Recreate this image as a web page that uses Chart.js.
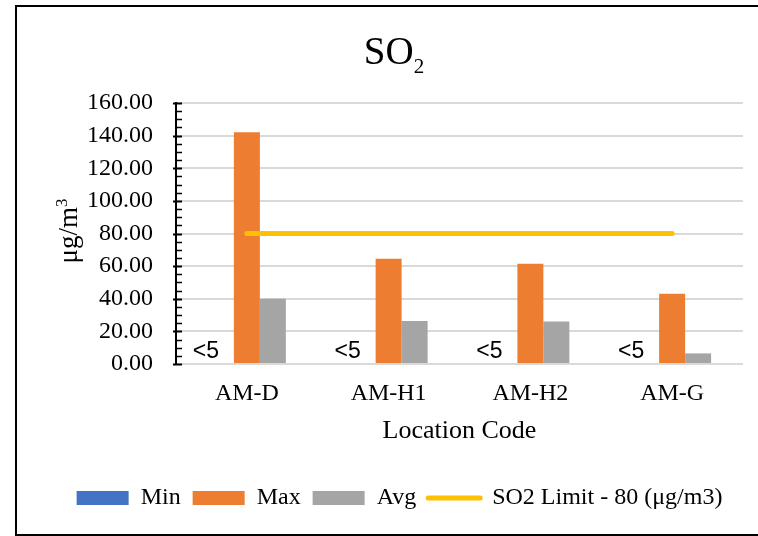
<!DOCTYPE html>
<html>
<head>
<meta charset="utf-8">
<script src="https://cdn.jsdelivr.net/npm/chart.js@4.4.1/dist/chart.umd.min.js"></script>
<style>
  html, body { margin: 0; padding: 0; background: #ffffff; overflow: hidden; }
  #wrap { position: relative; width: 758px; height: 536px; }
</style>
</head>
<body>
<div id="wrap"><canvas id="c" width="758" height="536"></canvas></div>
<script>
// Monitoring locations and SO2 concentrations (µg/m3)
const categories = ['AM-D', 'AM-H1', 'AM-H2', 'AM-G'];
const minValues = [0, 0, 0, 0];
const minLabels = ['<5', '<5', '<5', '<5'];
const maxValues = [142.0, 64.5, 61.5, 43.0];
const avgValues = [40.0, 26.3, 26.0, 6.5];
const limitValues = [80, 80, 80, 80];
const yTickValues = [0, 20, 40, 60, 80, 100, 120, 140, 160];

const SERIF = '"Liberation Serif", "Times New Roman", serif';
const SANS = '"Liberation Sans", Arial, sans-serif';

// Frame around the chart
const framePlugin = {
  id: 'frame',
  beforeDraw(chart) {
    const ctx = chart.ctx;
    ctx.save();
    ctx.fillStyle = '#ffffff';
    ctx.fillRect(0, 0, chart.width, chart.height);
    ctx.strokeStyle = '#000000';
    ctx.lineWidth = 2;
    ctx.beginPath();
    ctx.moveTo(chart.width, 6);
    ctx.lineTo(16, 6);
    ctx.lineTo(16, 535);
    ctx.lineTo(chart.width, 535);
    ctx.stroke();
    ctx.restore();
  }
};

// Chart title with subscript, and the rotated unit title with superscript
const titlesPlugin = {
  id: 'titles',
  afterDraw(chart) {
    const ctx = chart.ctx;
    ctx.save();
    ctx.fillStyle = '#000000';
    ctx.textBaseline = 'alphabetic';
    ctx.textAlign = 'left';
    ctx.font = '39px ' + SERIF;
    const main = 'SO';
    const mainW = ctx.measureText(main).width;
    ctx.font = '21px ' + SERIF;
    const subW = ctx.measureText('2').width;
    const x0 = 394 - (mainW + subW) / 2;
    ctx.font = '39px ' + SERIF;
    ctx.fillText(main, x0, 64);
    ctx.font = '21px ' + SERIF;
    ctx.fillText('2', x0 + mainW, 73);

    // y-axis unit
    ctx.translate(77, 231);
    ctx.rotate(-Math.PI / 2);
    ctx.font = '27px ' + SERIF;
    const unit = 'μg/m';
    const unitW = ctx.measureText(unit).width;
    ctx.font = '17px ' + SERIF;
    const supW = ctx.measureText('3').width;
    const ux = -(unitW + supW) / 2;
    ctx.font = '27px ' + SERIF;
    ctx.fillText(unit, ux, 0);
    ctx.font = '17px ' + SERIF;
    ctx.fillText('3', ux + unitW, -10);
    ctx.restore();
  }
};

// Inside tick marks on the value axis (minor every 5, major every 20)
const axisTicksPlugin = {
  id: 'axisTicks',
  afterDatasetsDraw(chart) {
    const y = chart.scales.y;
    const ctx = chart.ctx;
    const x = chart.chartArea.left;
    ctx.save();
    ctx.strokeStyle = '#000000';
    for (let v = 0; v <= 160; v += 5) {
      const py = Math.round(y.getPixelForValue(v)) + 0.5;
      const major = v % 20 === 0;
      ctx.lineWidth = major ? 2 : 1.5;
      ctx.beginPath();
      ctx.moveTo(major ? x - 3 : x, py);
      ctx.lineTo(x + 6, py);
      ctx.stroke();
    }
    ctx.restore();
  }
};

// "<5" labels for the minimum series
const minLabelPlugin = {
  id: 'minLabels',
  afterDatasetsDraw(chart) {
    const meta = chart.getDatasetMeta(0);
    const zero = chart.scales.y.getPixelForValue(0);
    const ctx = chart.ctx;
    ctx.save();
    ctx.fillStyle = '#000000';
    ctx.font = '23px ' + SANS;
    ctx.textAlign = 'center';
    ctx.textBaseline = 'alphabetic';
    meta.data.forEach((el, i) => {
      ctx.fillText(minLabels[i], el.x - 15, zero - 6);
    });
    ctx.restore();
  }
};

new Chart(document.getElementById('c'), {
  data: {
    labels: categories,
    datasets: [
      { type: 'bar', label: 'Min', data: minValues, backgroundColor: '#4472C4', order: 1 },
      { type: 'bar', label: 'Max', data: maxValues, backgroundColor: '#ED7D31', order: 1 },
      { type: 'bar', label: 'Avg', data: avgValues, backgroundColor: '#A5A5A5', order: 1 },
      {
        type: 'line', label: 'SO2 Limit - 80 (μg/m3)', data: limitValues,
        borderColor: '#FFC000', backgroundColor: '#FFC000', borderWidth: 5,
        borderCapStyle: 'round', pointRadius: 0, fill: false, order: 0
      }
    ]
  },
  options: {
    responsive: false,
    animation: false,
    devicePixelRatio: 1,
    layout: { padding: { top: 103, right: 15, left: 56, bottom: 16 } },
    datasets: {
      bar: { categoryPercentage: 0.55, barPercentage: 1.0, borderWidth: 0 }
    },
    scales: {
      x: {
        type: 'category',
        offset: true,
        grid: { display: false, drawTicks: false },
        border: { display: false },
        ticks: { color: '#000000', font: { family: SERIF, size: 24 }, padding: 15, maxRotation: 0 },
        title: {
          display: true, text: 'Location Code', color: '#000000',
          font: { family: SERIF, size: 26 }, padding: { top: 0, bottom: 27 }
        },
        afterFit(scale) { scale.height = 110; }
      },
      y: {
        min: 0, max: 160,
        afterBuildTicks(scale) { scale.ticks = yTickValues.map(v => ({ value: v })); },
        ticks: {
          color: '#000000', font: { family: SERIF, size: 24 }, padding: 23,
          callback: v => Number(v).toFixed(2)
        },
        grid: { color: '#D9D9D9', lineWidth: 2, drawTicks: false },
        border: { display: true, color: '#000000', width: 2 },
        afterFit(scale) { scale.width = 120; }
      }
    },
    plugins: {
      title: { display: false },
      tooltip: { enabled: false },
      legend: {
        display: true,
        position: 'bottom',
        labels: {
          color: '#000000',
          font: { family: SERIF, size: 24 },
          usePointStyle: true,
          pointStyleWidth: 52,
          boxHeight: 14,
          padding: 12,
          generateLabels(chart) {
            const items = Chart.defaults.plugins.legend.labels.generateLabels(chart);
            items.sort((a, b) => a.datasetIndex - b.datasetIndex);
            return items.map(it => {
              const ds = chart.data.datasets[it.datasetIndex];
              if (ds.type === 'line') {
                it.pointStyle = 'line';
                it.lineWidth = 5;
                it.strokeStyle = ds.borderColor;
                it.lineCap = 'round';
              } else {
                it.pointStyle = 'rect';
                it.lineWidth = 0;
                it.strokeStyle = ds.backgroundColor;
              }
              return it;
            });
          }
        }
      }
    }
  },
  plugins: [framePlugin, titlesPlugin, axisTicksPlugin, minLabelPlugin]
});
</script>
</body>
</html>
